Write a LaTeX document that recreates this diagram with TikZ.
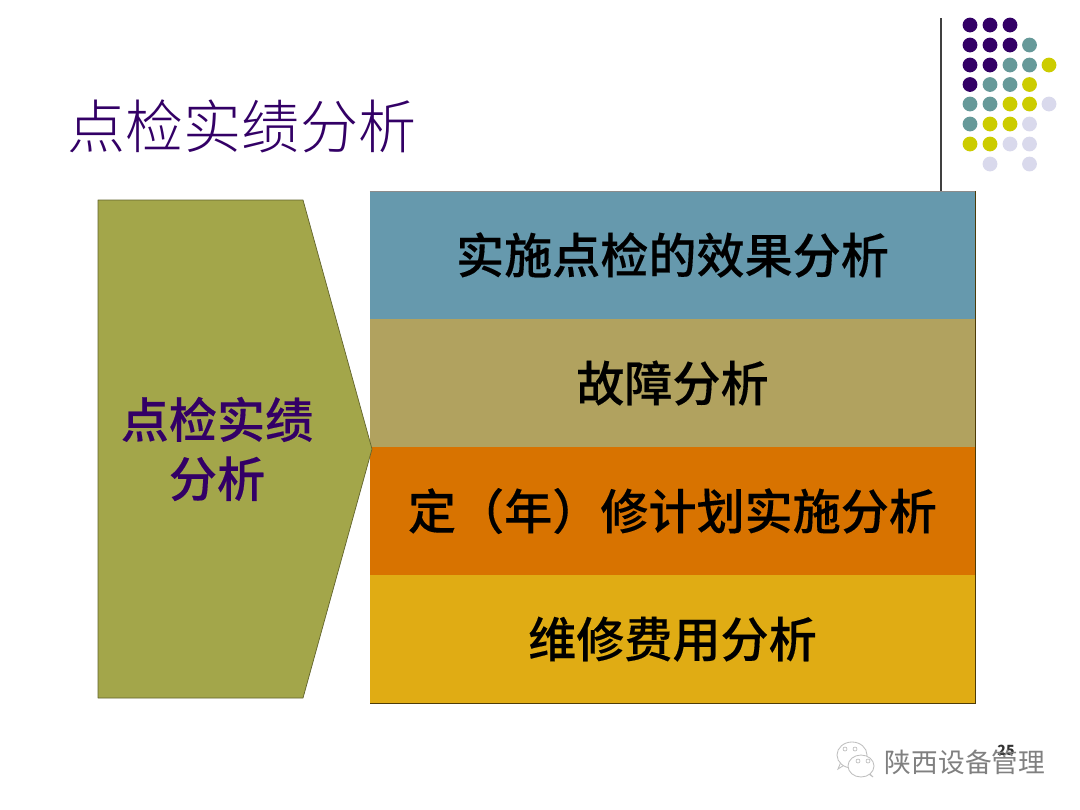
\documentclass[tikz,border=0pt]{standalone}
\usepackage{fontspec}
\usepackage{xcolor}
\usepackage{tikz}
\usetikzlibrary{arrows.meta, positioning, calc}
\setmainfont{Noto Sans CJK SC}
\newfontfamily\titlefont{Noto Sans CJK SC Light}
\newfontfamily\labelfont[FakeBold=0.25]{Noto Sans CJK SC Medium}
\definecolor{inkpurple}{RGB}{51,0,102}
\definecolor{dotteal}{RGB}{102,153,153}
\definecolor{dotyellow}{RGB}{204,204,0}
\definecolor{dotlilac}{RGB}{217,217,236}
\definecolor{chevgreen}{RGB}{163,166,74}
\definecolor{bandblue}{RGB}{102,153,173}
\definecolor{bandtan}{RGB}{177,162,95}
\definecolor{bandorange}{RGB}{216,115,0}
\definecolor{bandgold}{RGB}{224,172,20}

\begin{document}
\begin{tikzpicture}[x=0.025cm, y=-0.025cm,
    band/.style={rectangle, minimum width=15.125cm, minimum height=3.2cm, outer sep=0pt,
                 inner sep=0pt, align=center, font=\fontsize{34.2}{40}\selectfont\labelfont},
    dot/.style={circle, fill=#1, minimum size=0.37cm, inner sep=0pt},
    bubble/.style={draw=black!25, fill=white, line width=0.6pt},
    eye/.style={circle, draw=black!30, line width=0.4pt, minimum size=0.1cm, inner sep=0pt}
]
\useasboundingbox (0,0) rectangle (1080,810);
\fill[white] (0,0) rectangle (1080,810);

% title
\node[text=inkpurple, font=\fontsize{41.3}{48}\selectfont\titlefont] (title) at (242,126) {点检实绩分析};

% rule
\coordinate (ruletop) at (941,18);

% dots
\foreach \y/\cols in {25/{970/inkpurple,990/inkpurple,1010/inkpurple},
    45/{970/inkpurple,990/inkpurple,1010/inkpurple,1029.5/dotteal},
    65/{970/inkpurple,990/inkpurple,1010/dotteal,1029.5/dotteal,1049/dotyellow},
    84.5/{970/inkpurple,990/dotteal,1010/dotteal,1029.5/dotyellow},
    104/{970/dotteal,990/dotteal,1010/dotyellow,1029.5/dotyellow,1049/dotlilac},
    124/{970/dotteal,990/dotyellow,1010/dotyellow,1029.5/dotlilac},
    144/{970/dotyellow,990/dotyellow,1010/dotlilac,1029.5/dotlilac},
    164/{990/dotlilac,1029.5/dotlilac}} {
  \foreach \x/\c in \cols {
    \node[dot=\c] at (\x,\y) {};
  }
}

% bands
\node[band, fill=bandblue] (effect) at (672.5,255) {实施点检的效果分析};
\node[band, fill=bandtan, below=0cm of effect] (fault) {故障分析};
\node[band, fill=bandorange, below=0cm of fault] (plan) {定（年）修计划实施分析};
\node[band, fill=bandgold, below=0cm of plan] (cost) {维修费用分析};
\draw[black!45, line width=0.4pt] (effect.north west) -- (effect.north east);
\draw[black!65!bandgold, line width=0.8pt] (effect.north east) -- (cost.south east) -- (cost.south west);

\draw[black!75, line width=1pt] (ruletop) -- (ruletop |- effect.north);

% chevron
\draw[fill=chevgreen, draw=chevgreen!60!black, line width=0.5pt, line join=round]
  (98,200) -- (303,200) -- (372,449) -- (303,698) -- (98,698) -- cycle;
\node[text=inkpurple, align=center, font=\fontsize{34.2}{42}\selectfont\labelfont] (chev) at (217,449) {点检实绩\\分析};

% footer
\node[font=\fontsize{10}{12}\selectfont\bfseries, text=black!80] (pagenum) at (1006,750) {25};
\draw[bubble] (838,769) -- (846,764) -- (843,757) -- cycle;
\draw[bubble] (852,755) ellipse (15 and 13);
\draw[bubble] (870,774) -- (873,777) -- (866,772) -- cycle;
\draw[bubble] (861,766) ellipse (13 and 11);
\node[eye] (eyea) at (845,749) {};
\node[eye] (eyeb) at (855,749) {};
\node[eye] (eyec) at (858,761) {};
\node[eye] (eyed) at (868,761) {};
\node[text=black!50, font=\fontsize{19}{22}\selectfont] (mark) at (965,762) {陕西设备管理};
\end{tikzpicture}
\end{document}
